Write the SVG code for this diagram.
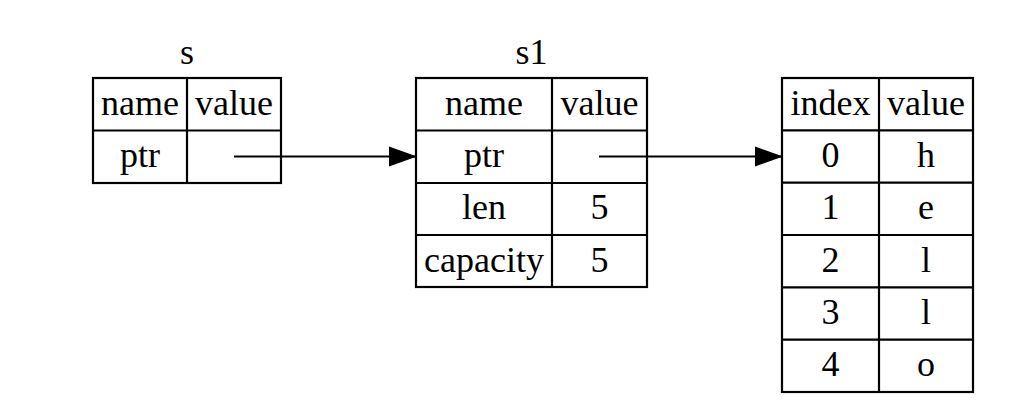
<svg xmlns="http://www.w3.org/2000/svg" width="1020" height="416" viewBox="0 0 1020 416">
<style>
.t{font-family:"Liberation Serif","Times New Roman",serif;font-size:36px;fill:#000;text-anchor:middle}
.b{fill:none;stroke:#000;stroke-width:2.2}
.e{fill:none;stroke:#000;stroke-width:2}
</style>
<defs>
<marker id="ah" markerUnits="userSpaceOnUse" markerWidth="30" markerHeight="24" refX="29" refY="11" orient="auto">
<path d="M1,1 L29,11 L1,21 Z" fill="#000"/>
</marker>
</defs>
<rect width="1020" height="416" fill="#fff"/>
<g id="s">
<text class="t" x="187" y="63.5">s</text>
<rect class="b" x="93" y="78" width="188" height="105"/>
<line class="b" x1="187" y1="78" x2="187" y2="183"/>
<line class="b" x1="93" y1="130.5" x2="281" y2="130.5"/>
<text class="t" x="140" y="114.5">name</text>
<text class="t" x="234" y="114.5">value</text>
<text class="t" x="140" y="167">ptr</text>
</g>
<g id="s1">
<text class="t" x="531.5" y="63.5">s1</text>
<rect class="b" x="416" y="78" width="231" height="209"/>
<line class="b" x1="552" y1="78" x2="552" y2="287"/>
<line class="b" x1="416" y1="130.5" x2="647" y2="130.5"/>
<line class="b" x1="416" y1="183" x2="647" y2="183"/>
<line class="b" x1="416" y1="235" x2="647" y2="235"/>
<text class="t" x="484" y="114.5">name</text>
<text class="t" x="599.5" y="114.5">value</text>
<text class="t" x="484" y="167">ptr</text>
<text class="t" x="484" y="219">len</text>
<text class="t" x="599.5" y="219">5</text>
<text class="t" x="484" y="271.5">capacity</text>
<text class="t" x="599.5" y="271.5">5</text>
</g>
<g id="heap">
<rect class="b" x="782" y="78" width="191" height="314"/>
<line class="b" x1="879" y1="78" x2="879" y2="392"/>
<line class="b" x1="782" y1="130.33" x2="973" y2="130.33"/>
<line class="b" x1="782" y1="182.67" x2="973" y2="182.67"/>
<line class="b" x1="782" y1="235" x2="973" y2="235"/>
<line class="b" x1="782" y1="287.33" x2="973" y2="287.33"/>
<line class="b" x1="782" y1="339.67" x2="973" y2="339.67"/>
<text class="t" x="830.5" y="114.5">index</text>
<text class="t" x="926" y="114.5">value</text>
<text class="t" x="830.5" y="167">0</text>
<text class="t" x="926" y="167">h</text>
<text class="t" x="830.5" y="219">1</text>
<text class="t" x="926" y="219">e</text>
<text class="t" x="830.5" y="271.5">2</text>
<text class="t" x="926" y="271.5">l</text>
<text class="t" x="830.5" y="324">3</text>
<text class="t" x="926" y="324">l</text>
<text class="t" x="830.5" y="376">4</text>
<text class="t" x="926" y="376">o</text>
</g>
<g id="connectors">
<line class="e" x1="234" y1="156.5" x2="417" y2="156.5" marker-end="url(#ah)"/>
<line class="e" x1="599" y1="156.5" x2="783" y2="156.5" marker-end="url(#ah)"/>
</g>
</svg>
